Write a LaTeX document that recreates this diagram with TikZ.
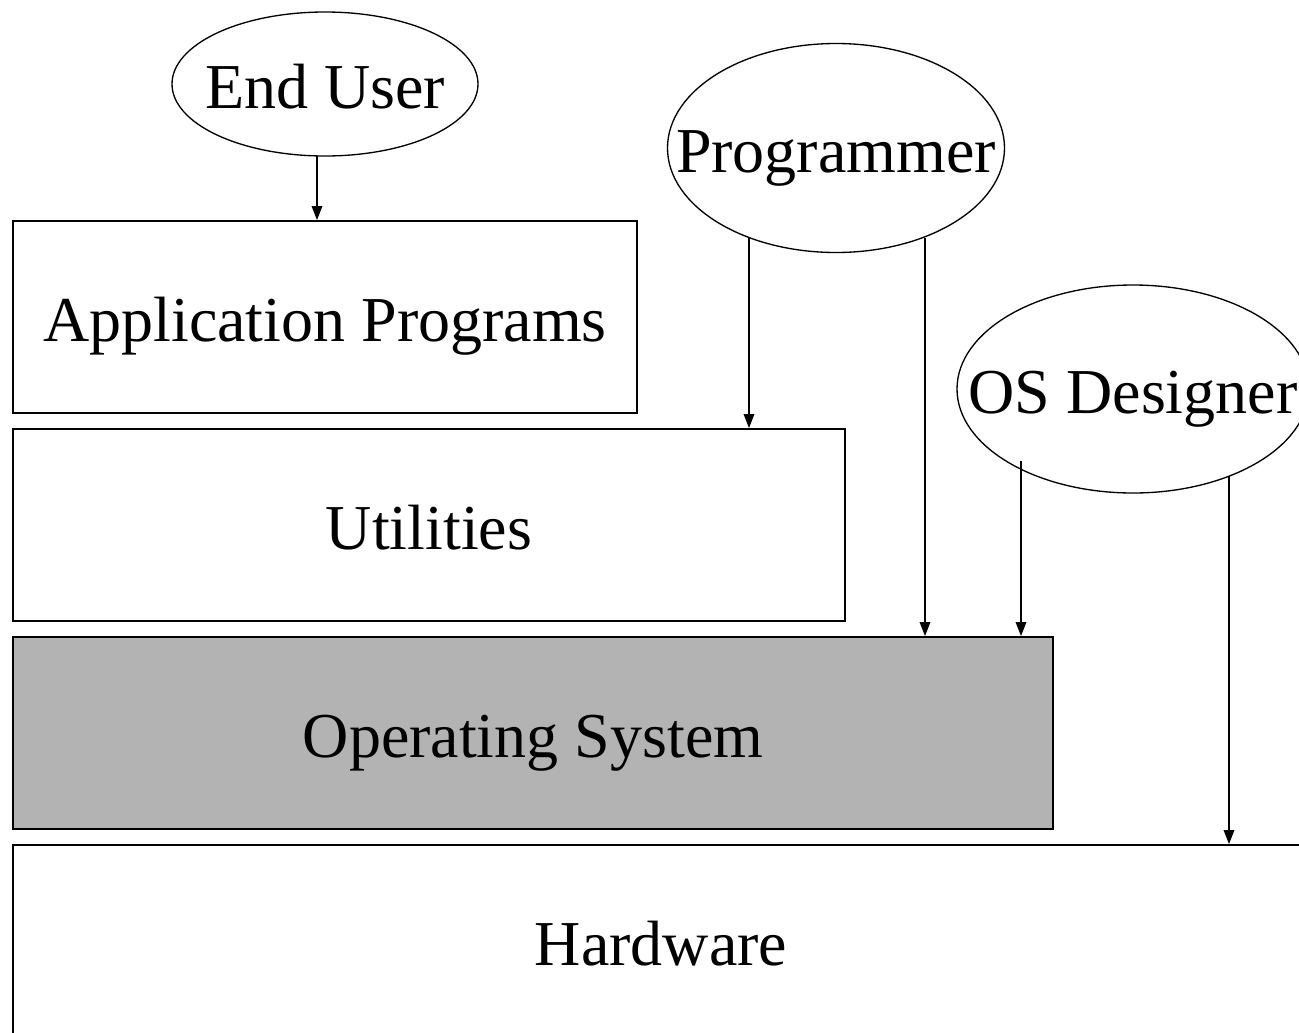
\documentclass[tikz,border=0pt]{standalone}
\usepackage{fontspec}
\setmainfont{Liberation Serif}
\usetikzlibrary{shapes.geometric,arrows.meta}
\definecolor{osgray}{HTML}{B3B3B3}
\tikzset{
  layerbox/.style={draw=black, line width=1.5pt, rectangle, inner sep=0pt, text height=36pt, text depth=0pt, font=\fontsize{48}{58}\selectfont},
  actor/.style={draw=black, line width=1pt, ellipse, inner sep=0pt, text height=36pt, text depth=0pt, font=\fontsize{48}{58}\selectfont},
  arr/.style={line width=1pt, -{Triangle[length=10.5pt,width=8pt]}}
}
\begin{document}
\begin{tikzpicture}[x=0.75pt,y=-0.75pt]
\useasboundingbox (0,0) rectangle (1299,1032);
\clip (0,0) rectangle (1299,1032);
\fill[white] (0,0) rectangle (1299,1032);
% layers
\node[layerbox, minimum width=468pt, minimum height=144pt] (app) at (325,317) {Application Programs};
\node[layerbox, minimum width=624pt, minimum height=144pt] (util) at (429,525) {Utilities};
\node[layerbox, fill=osgray, minimum width=780pt, minimum height=144pt] (os) at (533,733) {Operating System};
\node[layerbox, minimum width=972pt, minimum height=144pt] (hw) at (661,941) {Hardware};
% actors
\node[actor, minimum width=229.5pt, minimum height=108pt] (eu) at (325,84) {\makebox[0pt]{End User}};
\node[actor, minimum width=252.75pt, minimum height=156.75pt] (prog) at (836,148) {\makebox[0pt]{Programmer}};
\node[actor, minimum width=264pt, minimum height=156pt] (osd) at (1133,389) {\makebox[0pt]{OS Designer}};
% arrow start points
\coordinate (eu1) at (317,156);
\coordinate (p1) at (749,238);
\coordinate (p2) at (925,238);
\coordinate (d1) at (1021,461);
\coordinate (d2) at (1229,476);
% connectors
\draw[arr] (eu1) -- (eu1 |- app.north);
\draw[arr] (p1) -- (p1 |- util.north);
\draw[arr] (p2) -- (p2 |- os.north);
\draw[arr] (d1) -- (d1 |- os.north);
\draw[arr] (d2) -- (d2 |- hw.north);
\end{tikzpicture}
\end{document}
